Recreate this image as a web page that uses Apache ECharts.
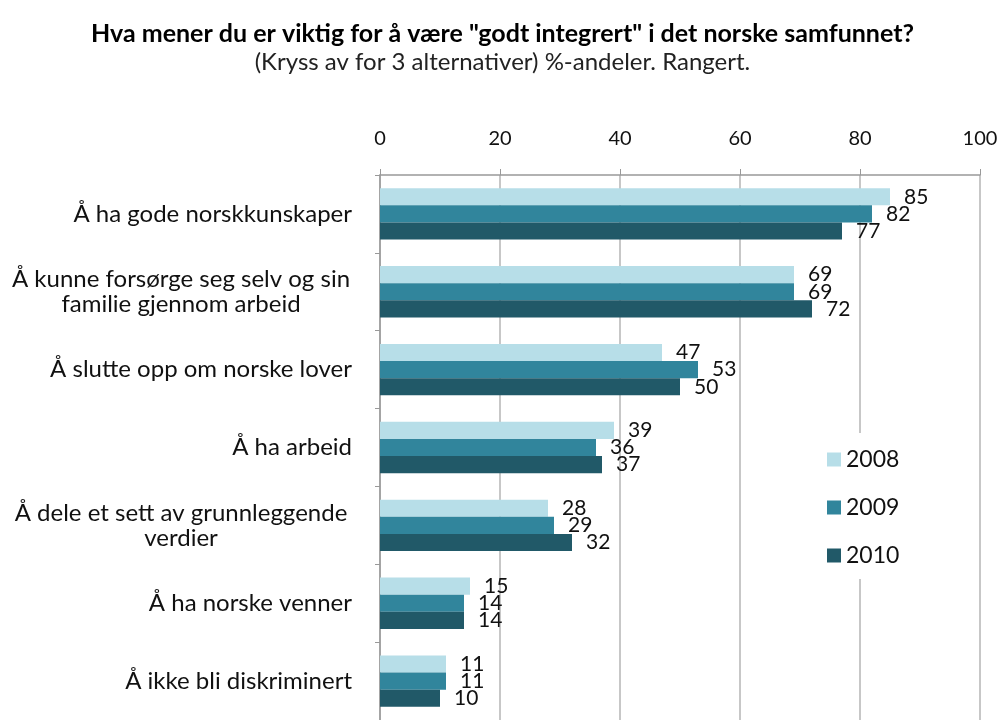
<!DOCTYPE html>
<html>
<head>
<meta charset="utf-8">
<script src="https://cdn.jsdelivr.net/npm/echarts@6/dist/echarts.min.js"></script>
<style>
  html, body { margin: 0; padding: 0; background: #fff; }
  #main { width: 1005px; height: 720px; }
</style>
</head>
<body>
<div id="main"></div>
<script>
// kategorier (ovenfra og ned)
var categories = [
  'Å ha gode norskkunskaper',
  'Å kunne forsørge seg selv og sin\nfamilie gjennom arbeid',
  'Å slutte opp om norske lover',
  'Å ha arbeid',
  'Å dele et sett av grunnleggende\nverdier',
  'Å ha norske venner',
  'Å ikke bli diskriminert'
]
var years = ['2008', '2009', '2010']
var v2008 = [85, 69, 47, 39, 28, 15, 11]
var v2009 = [82, 69, 53, 36, 29, 14, 11]
var v2010 = [77, 72, 50, 37, 32, 14, 10]
var xTicks = [0, 20, 40, 60, 80, 100]

var colors = ['#b7dee8', '#31859c', '#215968']
var font = 'Lato, "Open Sans", sans-serif'

var myChart = echarts.init(document.getElementById('main'))

function serie(name, data, color) {
  return {
    name: name,
    type: 'bar',
    data: data,
    barGap: '0%',
    barCategoryGap: '34%',
    itemStyle: { color: color },
    label: {
      show: true,
      position: 'right',
      distance: 14,
      color: '#111',
      fontSize: 21,
      fontFamily: font
    },
    animation: false
  }
}

myChart.setOption({
  title: {
    text: 'Hva mener du er viktig for å være "godt integrert" i det norske samfunnet?',
    subtext: '(Kryss av for 3 alternativer) %-andeler. Rangert.',
    left: 'center',
    top: 16,
    itemGap: 4,
    textStyle: { fontFamily: font, fontWeight: 'bold', fontSize: 25, color: '#000' },
    subtextStyle: { fontFamily: font, fontSize: 24, color: '#222' }
  },
  legend: {
    orient: 'vertical',
    left: 815,
    top: 433,
    itemGap: 25,
    itemWidth: 14,
    itemHeight: 14,
    padding: [15, 12, 12, 12],
    backgroundColor: '#fff',
    icon: 'rect',
    textStyle: { fontFamily: font, fontSize: 23, color: '#111' },
    data: years
  },
  grid: {
    left: 380,
    right: 25,
    top: 175,
    height: 551
  },
  xAxis: {
    type: 'value',
    position: 'top',
    min: xTicks[0],
    max: xTicks[xTicks.length - 1],
    interval: 20,
    axisLine: { show: true, lineStyle: { color: '#999', width: 1.5 } },
    axisTick: { show: true, length: 6, lineStyle: { color: '#999' } },
    axisLabel: { fontFamily: font, fontSize: 20, color: '#111', margin: 26 },
    splitLine: { show: true, lineStyle: { color: '#b4b4b4', width: 1.5 } }
  },
  yAxis: {
    type: 'category',
    inverse: true,
    data: categories,
    axisLine: { show: true, lineStyle: { color: '#999', width: 1.5 } },
    axisTick: { show: true, length: 5, lineStyle: { color: '#999' } },
    axisLabel: {
      fontFamily: font,
      fontSize: 24,
      color: '#111',
      margin: 28,
      lineHeight: 25,
      formatter: function (v) {
        if (v.indexOf('\n') < 0) return v
        // to-linjers etiketter sentreres innenfor blokken
        return v.split('\n').map(function (s) { return '{c|' + s + '}' }).join('\n')
      },
      rich: {
        c: { width: 342, align: 'center', fontFamily: font, fontSize: 24, color: '#111', lineHeight: 25 }
      }
    }
  },
  series: [
    serie(years[0], v2008, colors[0]),
    serie(years[1], v2009, colors[1]),
    serie(years[2], v2010, colors[2])
  ]
})
</script>
</body>
</html>
